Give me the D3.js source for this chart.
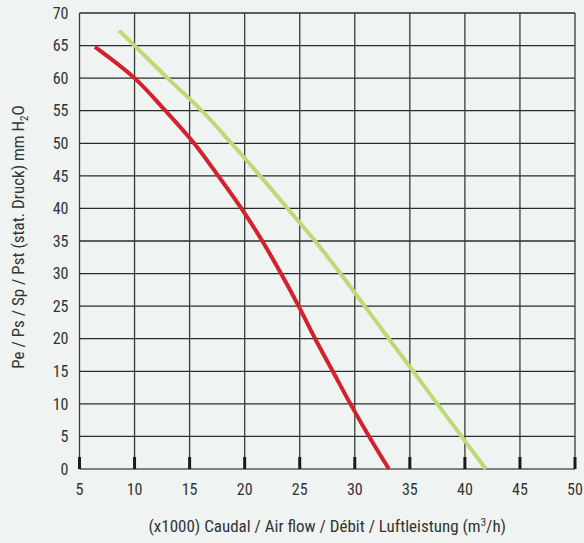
<!DOCTYPE html>
<html>
<head>
<meta charset="utf-8">
<script src="https://cdn.jsdelivr.net/npm/d3@7"></script>
<style>
	html, body { margin: 0; padding: 0; background: #eff3f2; }
	#chart { position: relative; width: 584px; height: 543px; }
	#chart svg { position: absolute; left: 0; top: 0; display: block; }
	.lbl { font-family: "Roboto Condensed", "Liberation Sans", sans-serif; fill: #333; }
</style>
</head>
<body>
<div id="chart"></div>
<script>
// tick values
var xTicks = [5, 10, 15, 20, 25, 30, 35, 40, 45, 50];
var yTicks = [0, 5, 10, 15, 20, 25, 30, 35, 40, 45, 50, 55, 60, 65, 70];

// curves: [air flow (x1000 m3/h), pressure (mm H2O)]
var redCurve = [[6.4, 64.8], [10, 60], [12.8, 55], [15.4, 50], [17.6, 45], [19.7, 40], [21.6, 35],
	[23.3, 30], [24.9, 25], [26.4, 20], [28.0, 15], [29.6, 10], [31.3, 5], [33.1, 0]];
var greenCurve = [[8.6, 67.3], [10, 65], [13.0, 60], [16.1, 55], [18.8, 50], [21.4, 45], [23.9, 40],
	[26.4, 35], [28.7, 30], [30.9, 25], [33.1, 20], [35.3, 15], [37.5, 10], [39.7, 5], [41.9, 0]];

var W = 584, H = 543;
var margin = { top: 13, left: 79.5, right: 9, bot: 74 };
var w = W - margin.left - margin.right,
	h = H - margin.top - margin.bot;

var xSc = d3.scaleLinear().domain([5, 50]).range([0, w]);
var ySc = d3.scaleLinear().domain([0, 70]).range([h, 0]);

// grid sits in its own svg underneath the chart
var gridSvg = d3.select("#chart").append("svg").attr("width", W).attr("height", H);
var gg = gridSvg.append("g").attr("transform", "translate(" + margin.left + "," + margin.top + ")");
gg.append("g").selectAll("line").data(yTicks.slice(1)).enter().append("line")
	.attr("x1", 0).attr("x2", w)
	.attr("y1", function(d) { return ySc(d); }).attr("y2", function(d) { return ySc(d); })
	.attr("stroke", "#2b2b2b").attr("stroke-width", 1.3);
gg.append("g").selectAll("line").data(xTicks).enter().append("line")
	.attr("x1", function(d) { return xSc(d); }).attr("x2", function(d) { return xSc(d); })
	.attr("y1", 0).attr("y2", h)
	.attr("stroke", "#3a3a3a").attr("stroke-width", 1.3);

var svg = d3.select("#chart").append("svg").attr("width", W).attr("height", H);
var g = svg.append("g").attr("transform", "translate(" + margin.left + "," + margin.top + ")");

// base line and heavy ticks
g.append("line").attr("x1", 0).attr("x2", w).attr("y1", h).attr("y2", h)
	.attr("stroke", "#808080").attr("stroke-width", 2);
g.append("g").selectAll("rect").data(xTicks).enter().append("rect")
	.attr("x", function(d) { return xSc(d) - 1.5; })
	.attr("y", h - 12).attr("width", 3).attr("height", 12)
	.attr("fill", "#1a1a1a");

// axis labels
g.append("g").selectAll("text").data(yTicks).enter().append("text").classed("lbl", true)
	.attr("x", -11).attr("y", function(d) { return ySc(d); }).attr("dy", "0.36em")
	.attr("text-anchor", "end").style("font-size", "16px")
	.text(function(d) { return d; });
g.append("g").selectAll("text").data(xTicks).enter().append("text").classed("lbl", true)
	.attr("x", function(d) { return xSc(d); }).attr("y", h + 26)
	.attr("text-anchor", "middle").style("font-size", "16px")
	.text(function(d) { return d; });

// curves
var curveLine = d3.line()
	.x(function(d) { return xSc(d[0]); })
	.y(function(d) { return ySc(d[1]); })
	.curve(d3.curveCatmullRom);

g.append("path").datum(greenCurve).attr("d", curveLine)
	.attr("fill", "none").attr("stroke", "#bcdb76").attr("stroke-width", 4);
g.append("path").datum(redCurve).attr("d", curveLine)
	.attr("fill", "none").attr("stroke", "#d5212b").attr("stroke-width", 4);

// titles
var xt = svg.append("text").classed("lbl", true)
	.attr("x", margin.left + w / 2).attr("y", 532)
	.attr("text-anchor", "middle").style("font-size", "17px");
xt.append("tspan").text("(x1000) Caudal / Air flow / Débit / Luftleistung (m");
xt.append("tspan").attr("dy", -6).style("font-size", "11px").text("3");
xt.append("tspan").attr("dy", 6).text("/h)");

var yt = svg.append("text").classed("lbl", true)
	.attr("transform", "translate(24,237) rotate(-90)")
	.attr("text-anchor", "middle").style("font-size", "17px");
yt.append("tspan").text("Pe / Ps / Sp / Pst (stat. Druck) mm H");
yt.append("tspan").attr("dy", 4).style("font-size", "11px").text("2");
yt.append("tspan").attr("dy", -4).text("O");
</script>
</body>
</html>
